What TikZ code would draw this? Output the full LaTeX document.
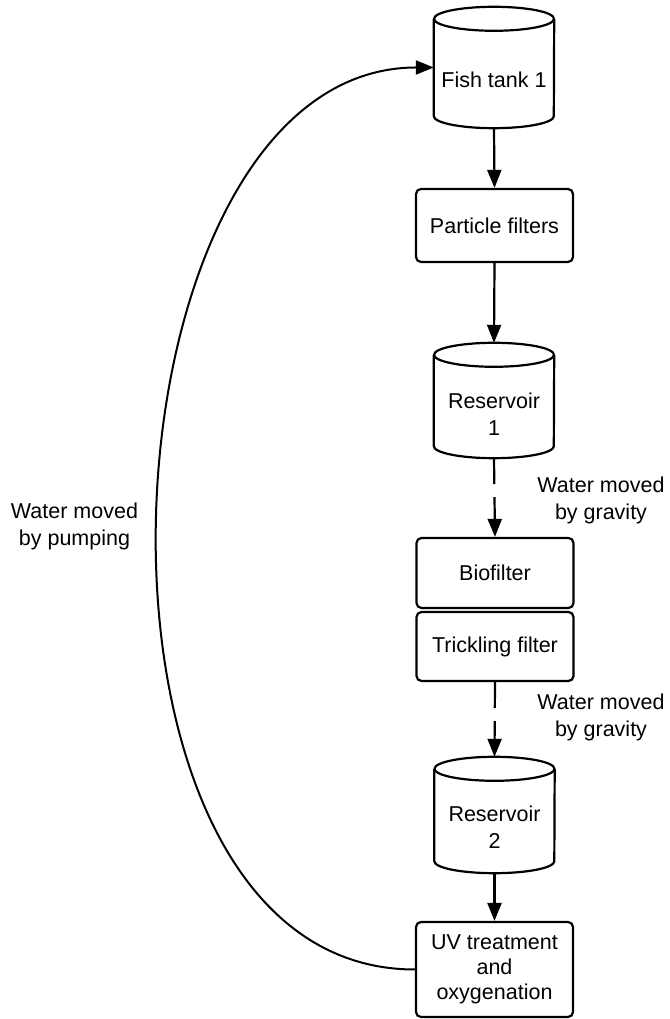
\documentclass[tikz,border=0pt]{standalone}
\usepackage{fontspec}
\setmainfont{Liberation Sans}
\usetikzlibrary{arrows.meta,calc}
% outline of a tank drawn around an invisible node
\newcommand\drawtank[1]{%
  \draw[tankline] ($(#1.north west)+(0,-12)$) -- ($(#1.south west)+(0,12)$)
    arc[start angle=180,end angle=360,x radius=60,y radius=12]
    -- ($(#1.north east)+(0,-12)$);
  \draw[tankline] ($(#1.north)+(0,-12)$) ellipse[x radius=60,y radius=12];
}
\begin{document}
\begin{tikzpicture}[x=1pt,y=1pt,
  every node/.style={font=\fontsize{21.5}{27}\selectfont, align=center, inner sep=0pt},
  stepbox/.style={draw, line width=2.2pt, rounded corners=5pt, minimum width=157pt},
  tankbody/.style={minimum width=120pt},
  tankline/.style={line width=2.2pt, line join=round},
  flow/.style={line width=2.2pt, -{Triangle[length=18pt,width=14pt]}},
  gravityflow/.style={flow, dash pattern=on 26pt off 13pt},
  pumpflow/.style={line width=2pt, -{Triangle[length=18pt,width=14pt]}}
]
\useasboundingbox (0,0) rectangle (669,1019);

% process chain
\node[tankbody, minimum height=121pt] (ft) at (494,951.5) {};
\node (ftlabel) at ($(ft.center)+(0,-12.5)$) {Fish tank 1};
\node[stepbox, minimum height=73pt] (pf) at (494.5,793.5) {Particle filters};
\node[tankbody, minimum height=115pt] (r1) at (494,618.5) {};
\node (r1label) at ($(r1.center)+(0,-14)$) {Reservoir\\1};
\node[stepbox, minimum height=70pt] (bio) at (495,446) {Biofilter};
\node[stepbox, minimum height=69pt] (trk) at (495,372.5) {Trickling filter};
\node[tankbody, minimum height=116pt] (r2) at (494.5,204) {};
\node (r2label) at ($(r2.center)+(0,-12)$) {Reservoir\\2};
\node[stepbox, minimum height=95pt, font=\fontsize{21.5}{25}\selectfont] (uv) at (494.5,49.5) {UV treatment\\and\\oxygenation};

\drawtank{ft}
\drawtank{r1}
\drawtank{r2}

% annotations
\node (grav1) at (601,518.5) {Water moved\\by gravity};
\node (grav2) at (601,302) {Water moved\\by gravity};
\node (pump) at (74.5,492.5) {Water moved\\by pumping};

% connectors
\draw[flow] (ft.south) -- (pf.north);
\draw[flow] (pf.south) -- (r1.north);
\draw[gravityflow] (r1.south) -- (bio.north);
\draw[gravityflow] (trk.south) -- (r2.north);
\draw[flow] (r2.south) -- (uv.north);
\draw[pumpflow] (uv.west) .. controls ($(uv.west)+(-366,0)$) and ($(ft.west)+(-344,0)$) .. (ft.west);
\end{tikzpicture}
\end{document}
